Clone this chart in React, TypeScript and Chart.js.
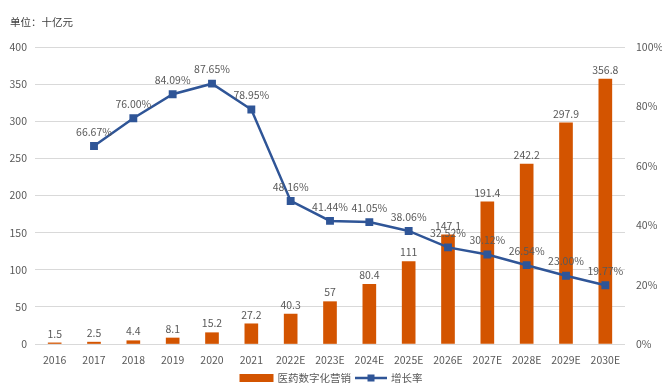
import React, { useEffect, useRef } from "react";
import { Chart, registerables } from "chart.js";

Chart.register(...registerables);

const categories = ["2016", "2017", "2018", "2019", "2020", "2021", "2022E", "2023E", "2024E", "2025E", "2026E", "2027E", "2028E", "2029E", "2030E"];
const salesValues = [1.5, 2.5, 4.4, 8.1, 15.2, 27.2, 40.3, 57, 80.4, 111, 147.1, 191.4, 242.2, 297.9, 356.8];
const growthValues: (number | null)[] = [null, 66.67, 76.0, 84.09, 87.65, 78.95, 48.16, 41.44, 41.05, 38.06, 32.52, 30.12, 26.54, 23.0, 19.77];
const seriesNames = ["医药数字化营销", "增长率"];
const unitLabel = "单位：十亿元";

const BAR_COLOR = "#D35400";
const LINE_COLOR = "#2F5597";
const TEXT_COLOR = "#595959";
const FONT = "'Noto Sans CJK SC', 'Noto Sans', sans-serif";

const labelsPlugin = {
  id: "customLabels",
  afterDatasetsDraw(chart: any) {
    const ctx = chart.ctx;
    ctx.save();
    ctx.font = `10.5px ${FONT}`;
    ctx.fillStyle = TEXT_COLOR;
    ctx.textAlign = "center";
    ctx.textBaseline = "bottom";
    const barMeta = chart.getDatasetMeta(0);
    barMeta.data.forEach((el: any, i: number) => {
      ctx.fillText(String(salesValues[i]), el.x, el.y - 4);
    });
    const lineMeta = chart.getDatasetMeta(1);
    lineMeta.data.forEach((el: any, i: number) => {
      const v = growthValues[i];
      if (v == null) return;
      ctx.fillText(v.toFixed(2) + "%", el.x, el.y - 9);
    });
    // unit label
    ctx.textAlign = "left";
    ctx.textBaseline = "middle";
    ctx.fillStyle = "#404040";
    ctx.fillText(unitLabel, 10, 22);
    // legend
    const ly = 378;
    const cx = chart.width / 2;
    const w1 = ctx.measureText(seriesNames[0]).width;
    const w2 = ctx.measureText(seriesNames[1]).width;
    const total = 34 + 4 + w1 + 4 + 32 + 4 + w2;
    let x = cx - total / 2;
    ctx.fillStyle = BAR_COLOR;
    ctx.fillRect(x, ly - 4, 34, 8);
    x += 38;
    ctx.fillStyle = TEXT_COLOR;
    ctx.fillText(seriesNames[0], x, ly);
    x += w1 + 4;
    ctx.strokeStyle = LINE_COLOR;
    ctx.lineWidth = 2.5;
    ctx.beginPath();
    ctx.moveTo(x, ly);
    ctx.lineTo(x + 32, ly);
    ctx.stroke();
    ctx.fillStyle = LINE_COLOR;
    ctx.fillRect(x + 16 - 3.5, ly - 3.5, 7, 7);
    x += 36;
    ctx.fillStyle = TEXT_COLOR;
    ctx.fillText(seriesNames[1], x, ly);
    ctx.restore();
  },
};

export default function App() {
  const ref = useRef<HTMLCanvasElement>(null);
  useEffect(() => {
    if (!ref.current) return;
    const chart = new Chart(ref.current, {
      type: "bar",
      data: {
        labels: categories,
        datasets: [
          {
            type: "bar",
            label: seriesNames[0],
            data: salesValues,
            backgroundColor: BAR_COLOR,
            barThickness: 13,
            yAxisID: "y",
            order: 2,
          },
          {
            type: "line",
            label: seriesNames[1],
            data: growthValues,
            borderColor: LINE_COLOR,
            backgroundColor: LINE_COLOR,
            borderWidth: 2.5,
            pointStyle: "rect",
            pointRadius: 3.8,
            spanGaps: false,
            tension: 0,
            yAxisID: "y1",
            order: 1,
          } as any,
        ],
      },
      options: {
        animation: false,
        responsive: false,
        maintainAspectRatio: false,
        layout: { padding: { top: 47, bottom: 0, left: 0, right: 0 } },
        plugins: {
          legend: { display: false },
          tooltip: { enabled: false },
        },
        scales: {
          x: {
            grid: { display: false },
            border: { display: false },
            ticks: { color: TEXT_COLOR, font: { family: FONT, size: 10.5 }, maxRotation: 0, autoSkip: false, padding: 2 },
            afterFit: (s: any) => { s.height = 48; },
          },
          y: {
            position: "left",
            min: 0,
            max: 400,
            grid: { color: "#D9D9D9", lineWidth: 1, drawTicks: false },
            border: { display: false },
            ticks: { stepSize: 50, color: TEXT_COLOR, font: { family: FONT, size: 10.5 }, padding: 8 },
            afterFit: (s: any) => { s.width = 35; },
          },
          y1: {
            position: "right",
            min: 0,
            max: 100,
            grid: { display: false },
            border: { display: false },
            ticks: { stepSize: 20, color: TEXT_COLOR, font: { family: FONT, size: 10.5 }, padding: 3, callback: (v: any) => v + "%" },
            afterFit: (s: any) => { s.width = 37; },
          },
        },
      },
      plugins: [labelsPlugin],
    });
    return () => chart.destroy();
  }, []);
  return (
    <div style={{ position: "absolute", left: 0, top: 0, width: 662, height: 392, background: "#fff" }}>
      <canvas ref={ref} width={662} height={392} style={{ width: 662, height: 392 }} />
    </div>
  );
}
